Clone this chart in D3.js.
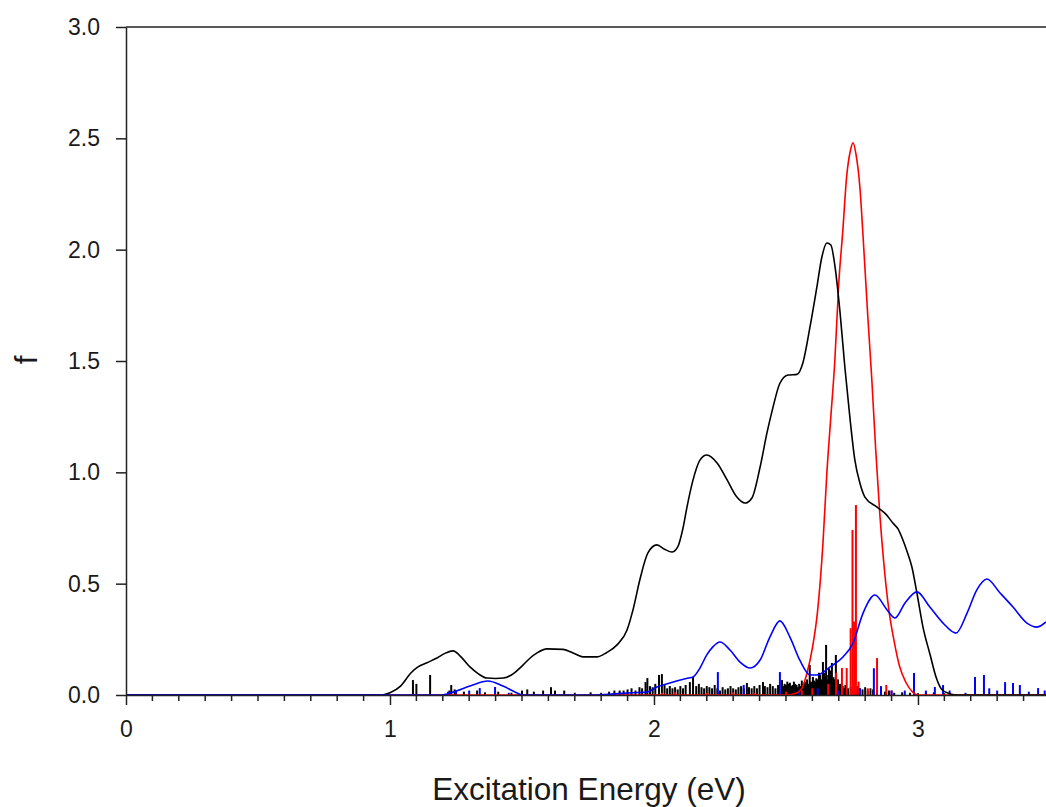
<!DOCTYPE html>
<html>
<head>
<meta charset="utf-8">
<script src="https://cdn.jsdelivr.net/npm/d3@7"></script>
<style>
  body { margin: 0; background: #fff; }
  text { font-family: "Liberation Sans", Arial, sans-serif; fill: #1a1a1a; }
</style>
</head>
<body>
<div id="chart"></div>
<script>
// broadened spectra, [energy eV, f]
const blackCurve = [
  [0, 0], [0.97, 0], [1.0, 0.01], [1.04, 0.04], [1.08, 0.1], [1.106, 0.126], [1.14, 0.145],
  [1.178, 0.166], [1.21, 0.188], [1.239, 0.198], [1.27, 0.17], [1.303, 0.126], [1.335, 0.095],
  [1.367, 0.076], [1.40, 0.074], [1.43, 0.076], [1.46, 0.09], [1.50, 0.13], [1.53, 0.165],
  [1.557, 0.189], [1.595, 0.207], [1.655, 0.205], [1.70, 0.185], [1.731, 0.171], [1.783, 0.171],
  [1.82, 0.19], [1.86, 0.225], [1.898, 0.292], [1.92, 0.38], [1.947, 0.52], [1.977, 0.638],
  [2.011, 0.674], [2.04, 0.655], [2.068, 0.642], [2.09, 0.665], [2.11, 0.75], [2.125, 0.844],
  [2.148, 0.966], [2.174, 1.055], [2.2, 1.078], [2.239, 1.042], [2.277, 0.966], [2.314, 0.889],
  [2.345, 0.862], [2.371, 0.885], [2.402, 1.024], [2.428, 1.177], [2.451, 1.293], [2.477, 1.40],
  [2.508, 1.437], [2.542, 1.44], [2.564, 1.491], [2.591, 1.653], [2.617, 1.832], [2.636, 1.967],
  [2.655, 2.03], [2.67, 2.021], [2.686, 1.922], [2.705, 1.716], [2.723, 1.473], [2.742, 1.248],
  [2.761, 1.055], [2.78, 0.952], [2.799, 0.889], [2.845, 0.844], [2.88, 0.81], [2.905, 0.772],
  [2.925, 0.745], [2.943, 0.696], [2.96, 0.64], [2.977, 0.575], [2.996, 0.458], [3.019, 0.305],
  [3.045, 0.185], [3.07, 0.075], [3.09, 0.025], [3.12, 0.006], [3.15, 0], [3.485, 0]
];
const redCurve = [
  [0, 0], [2.5, 0], [2.54, 0.009], [2.56, 0.03], [2.58, 0.1], [2.60, 0.21], [2.62, 0.38],
  [2.64, 0.68], [2.655, 1.0], [2.67, 1.25], [2.685, 1.5], [2.70, 1.85], [2.715, 2.08],
  [2.73, 2.33], [2.745, 2.45], [2.754, 2.48], [2.765, 2.43], [2.78, 2.28], [2.795, 2.0],
  [2.81, 1.7], [2.825, 1.42], [2.84, 1.1], [2.855, 0.82], [2.87, 0.6], [2.89, 0.38],
  [2.91, 0.24], [2.93, 0.13], [2.955, 0.055], [2.98, 0.013], [3.0, 0], [3.485, 0]
];
const blueCurve = [
  [0, 0], [1.19, 0], [1.239, 0.013], [1.303, 0.04], [1.371, 0.063], [1.428, 0.04], [1.481, 0.009],
  [1.5, 0], [1.78, 0], [1.85, 0.005], [1.92, 0.01], [1.973, 0.013], [2.011, 0.036], [2.06, 0.054],
  [2.13, 0.076], [2.148, 0.081], [2.174, 0.121], [2.2, 0.18], [2.223, 0.216], [2.25, 0.238],
  [2.288, 0.202], [2.326, 0.148], [2.364, 0.121], [2.402, 0.157], [2.439, 0.26], [2.477, 0.333],
  [2.515, 0.26], [2.553, 0.155], [2.591, 0.09], [2.617, 0.09], [2.667, 0.126], [2.716, 0.171],
  [2.754, 0.233], [2.792, 0.368], [2.837, 0.449], [2.883, 0.382], [2.913, 0.346], [2.951, 0.413],
  [2.996, 0.463], [3.045, 0.395], [3.095, 0.323], [3.144, 0.278], [3.186, 0.368], [3.223, 0.472],
  [3.261, 0.521], [3.311, 0.458], [3.36, 0.395], [3.413, 0.323], [3.451, 0.305], [3.485, 0.328]
];

// individual transitions (stick spectra)
const blackSticks = [
  [1.087, .067], [1.10, .05], [1.152, .09], [1.225, .02], [1.232, .045], [1.245, .025], [1.28, .015],
  [1.33, .02], [1.36, .012], [1.41, .015], [1.46, .01], [1.5, .02], [1.52, .025], [1.545, .015],
  [1.58, .02], [1.61, .035], [1.625, .02], [1.66, .02], [1.70, .01], [1.76, .012], [1.80, .01],
  [1.83, .015], [1.85, .02], [1.87, .02], [1.885, .02], [1.9, .025], [1.915, .03], [1.93, .02],
  [1.945, .035], [1.955, .03], [1.968, .058], [1.975, .076], [1.985, .04], [1.995, .035], [2.005, .05],
  [2.019, .09], [2.03, .094], [2.04, .045], [2.05, .03], [2.06, .04], [2.07, .03], [2.08, .035],
  [2.09, .025], [2.10, .04], [2.11, .03], [2.12, .045], [2.136, .058], [2.148, .081], [2.16, .04],
  [2.17, .05], [2.18, .035], [2.19, .03], [2.2, .04], [2.21, .035], [2.22, .03], [2.23, .045],
  [2.24, .03], [2.25, .02], [2.26, .035], [2.27, .025], [2.28, .03], [2.29, .04], [2.3, .03],
  [2.31, .025], [2.32, .035], [2.33, .04], [2.34, .03], [2.352, .054], [2.36, .035], [2.37, .03],
  [2.38, .04], [2.39, .03], [2.40, .045], [2.413, .058], [2.42, .04], [2.43, .035], [2.44, .05],
  [2.45, .04], [2.46, .03], [2.47, .045], [2.485, .067], [2.49, .04], [2.495, .05], [2.50, .045],
  [2.505, .06], [2.51, .05], [2.515, .055], [2.52, .04], [2.525, .045], [2.53, .06], [2.535, .05],
  [2.54, .045], [2.545, .035], [2.55, .05], [2.555, .04], [2.56, .065], [2.565, .05], [2.57, .055],
  [2.575, .06], [2.58, .07], [2.585, .05], [2.59, .135], [2.595, .06], [2.602, .081], [2.606, .065],
  [2.61, .06], [2.615, .075], [2.62, .07], [2.625, .1], [2.63, .09], [2.635, .07], [2.64, .148],
  [2.645, .1], [2.648, .08], [2.652, .225], [2.656, .07], [2.66, .09], [2.663, .12], [2.667, .11],
  [2.671, .08], [2.674, .144], [2.677, .06], [2.68, .08], [2.684, .07], [2.689, .18], [2.693, .06],
  [2.697, .07], [2.70, .04], [2.705, .05], [2.71, .035], [2.715, .04], [2.72, .03], [2.725, .045],
  [2.735, .03], [2.745, .035], [2.76, .02], [2.77, .04], [2.78, .03], [2.79, .025], [2.80, .035],
  [2.81, .02], [2.82, .03], [2.83, .025], [2.845, .02], [2.86, .025], [2.875, .015], [2.89, .02],
  [2.91, .01], [2.94, .012], [2.97, .01], [3.0, .008], [3.03, .01], [3.06, .012], [3.1, .008]
];
const redSticks = [
  [1.85, .01], [1.9, .008], [2.03, .01], [2.08, .012], [2.2, .01], [2.3, .012], [2.38, .01],
  [2.5, .015], [2.56, .02], [2.6, .03], [2.66, .05], [2.69, .1], [2.712, .121], [2.73, .121],
  [2.745, .3], [2.752, .741], [2.758, .33], [2.765, .853], [2.775, .06], [2.81, .03],
  [2.845, .166], [2.88, .045], [2.9, .02]
];
const blueSticks = [
  [1.22, .015], [1.25, .02], [1.3, .02], [1.34, .031], [1.398, .036], [1.45, .01], [2.242, .103],
  [2.34, .045], [2.477, .103], [2.55, .02], [2.62, .03], [2.7, .02], [2.78, .03], [2.833, .12],
  [2.86, .04], [2.9, .02], [2.95, .02], [2.985, .099], [3.03, .02], [3.064, .036], [3.095, .045],
  [3.12, .02], [3.18, .01], [3.216, .081], [3.25, .09], [3.27, .03], [3.3, .02], [3.33, .058],
  [3.36, .054], [3.386, .045], [3.42, .015], [3.455, .031], [3.48, .02]
];

const xTicks = [0, 1, 2, 3];
const yTicks = [0, 0.5, 1.0, 1.5, 2.0, 2.5, 3.0];

class SpectrumView {
    constructor(parentSelector, width, height) {
        this.width = width;
        this.height = height;
        this.svg = d3.select(parentSelector)
            .append('svg')
            .attr('width', width)
            .attr('height', height);

        this.x = d3.scaleLinear().domain([0, 3.485]).range([126, 1046]);
        this.y = d3.scaleLinear().domain([0, 3]).range([695, 27]);

        this.line = d3.line()
            .x(d => this.x(d[0]))
            .y(d => this.y(d[1]))
            .curve(d3.curveMonotoneX);
    }

    render() {
        this.renderSticks(blackSticks, '#000');
        this.renderSticks(redSticks, '#ff0000');
        this.renderSticks(blueSticks, '#0000ff');
        this.renderCurve(redCurve, '#ff0000');
        this.renderCurve(blackCurve, '#000');
        this.renderCurve(blueCurve, '#0000ff');
        this.renderAxes();
    }

    renderSticks(data, color) {
        this.svg.append('g')
            .selectAll('line')
            .data(data)
            .join('line')
            .attr('x1', d => this.x(d[0]))
            .attr('x2', d => this.x(d[0]))
            .attr('y1', this.y(0))
            .attr('y2', d => this.y(d[1]))
            .attr('stroke', color)
            .attr('stroke-width', 2);
    }

    renderCurve(data, color) {
        this.svg.append('path')
            .datum(data)
            .attr('d', this.line)
            .attr('fill', 'none')
            .attr('stroke', color)
            .attr('stroke-width', 1.6);
    }

    renderAxes() {
        const x = this.x, y = this.y;

        // top frame line
        this.svg.append('line')
            .attr('x1', x(0)).attr('x2', this.width)
            .attr('y1', y(3)).attr('y2', y(3))
            .attr('stroke', '#222').attr('stroke-width', 1.5);

        const minor = d3.range(1, 35).map(i => i / 10).filter(v => !xTicks.includes(v));
        this.svg.append('g')
            .selectAll('line')
            .data(minor)
            .join('line')
            .attr('x1', d => x(d)).attr('x2', d => x(d))
            .attr('y1', y(0)).attr('y2', y(0) + 6)
            .attr('stroke', '#222').attr('stroke-width', 1.5);

        const xAxis = this.svg.append('g')
            .attr('transform', `translate(0,${y(0)})`)
            .call(d3.axisBottom(x).tickValues(xTicks).tickFormat(d3.format('d'))
                .tickSize(10).tickPadding(16).tickSizeOuter(0));
        const yAxis = this.svg.append('g')
            .attr('transform', `translate(${x(0)},0)`)
            .call(d3.axisLeft(y).tickValues(yTicks).tickFormat(d3.format('.1f'))
                .tickSize(10).tickPadding(16).tickSizeOuter(0));

        [xAxis, yAxis].forEach(g => {
            g.select('.domain').attr('stroke', '#222').attr('stroke-width', 1.5);
            g.selectAll('.tick line').attr('stroke', '#222').attr('stroke-width', 1.5);
            g.selectAll('.tick text')
                .attr('font-size', 23)
                .attr('font-family', '"Liberation Sans", Arial, sans-serif')
                .attr('fill', '#1a1a1a');
        });

        this.svg.append('text')
            .attr('x', 589).attr('y', 800)
            .attr('text-anchor', 'middle')
            .attr('font-size', 31.5)
            .text('Excitation Energy (eV)');

        this.svg.append('text')
            .attr('transform', 'translate(37,360) rotate(-90)')
            .attr('text-anchor', 'middle')
            .attr('font-size', 31)
            .text('f');
    }
}

const view = new SpectrumView('#chart', 1046, 807);
view.render();
</script>
</body>
</html>
